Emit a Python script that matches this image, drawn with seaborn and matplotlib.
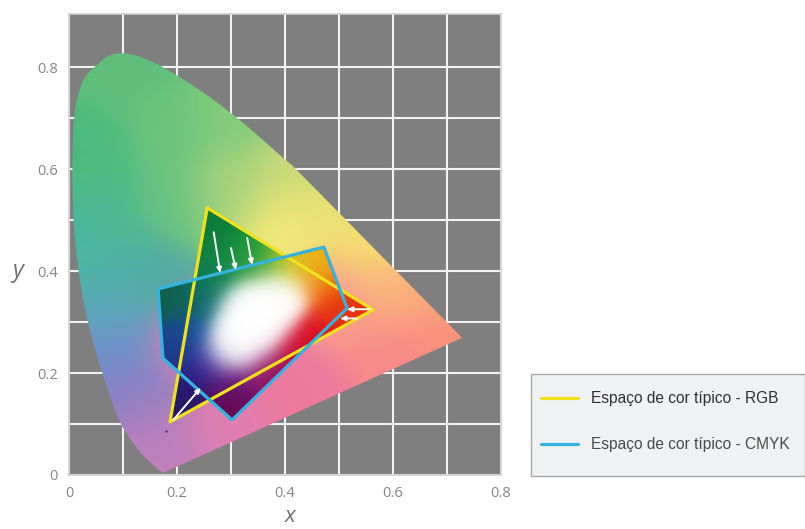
import numpy as np
import matplotlib
matplotlib.use("Agg")
import matplotlib.pyplot as plt
from matplotlib.patches import Polygon, Rectangle, PathPatch
from matplotlib.path import Path
import seaborn as sns

# --- chromaticity data ---
locus_x = [.174, .150, .131, .112, .094, .077, .061, .047, .035, .027, .020, .014, .009, .007,
           .006, .007, .009, .015, .026, .038, .052, .064, .076, .090, .104, .120, .137, .155, .174,
           .235, .298, .350, .400, .428, .728]
locus_y = [.004, .024, .045, .072, .102, .150, .202, .250, .300, .340, .382, .430, .480, .540,
           .598, .650, .702, .742, .775, .792, .804, .816, .824, .827, .827, .824, .818, .810, .800,
           .761, .712, .666, .618, .595, .269]

rgb_x = [.256, .563, .187]
rgb_y = [.524, .324, .104]
cmyk_x = [.165, .472, .515, .302, .174]
cmyk_y = [.365, .447, .327, .108, .229]

outer_x = [.104, .039, .057, .011, .057, .076, .113, .150, .178, .300, .428, .613, .715, .613, .557, .483, .409,
           .298, .187, .187, .120, .300, .400, .500, .080, .240]
outer_y = [.794, .637, .441, .441, .343, .245, .147, .069, .018, .088, .147, .225, .269, .363, .441, .520, .598,
           .696, .676, .539, .400, .560, .500, .350, .520, .260]
outer_c = ["#5fbf7a", "#4dbb7d", "#50b89a", "#44b5a8", "#58aabb", "#7090cc", "#8e80c4", "#b880be", "#c47fbb",
           "#e07eb0", "#ee7a9e", "#f88a8a", "#f99478", "#fbae7c", "#f9e070", "#e8e070", "#c4d878",
           "#84cc7c", "#6cc47c", "#6cc480", "#50aaa4", "#a8d27c", "#f4ea78", "#f89a90", "#4cb98c", "#d080b0"]

ring_x = [.317, .357, .404, .446, .474, .502, .465, .419, .363, .307, .252, .224, .243, .270]
ring_y = [.431, .418, .416, .412, .373, .324, .275, .235, .202, .186, .216, .275, .343, .392]
ring_c = ["#0d9040", "#60b040", "#c8d020", "#f0b020", "#f07a10", "#e84010", "#e01020", "#c00840", "#90106a",
          "#5a1580", "#302090", "#1550a0", "#0f6a70", "#108050"]
white_x = [.294, .322, .350, .376, .400, .313, .335, .372, .317, .354]
white_y = [.251, .278, .308, .335, .357, .249, .255, .294, .324, .353]
dark_x = [.274, .335, .193, .193, .211, .298, .378, .441, .515, .539, .465, .252, .187]
dark_y = [.471, .435, .343, .251, .153, .141, .192, .251, .318, .325, .437, .490, .118]
dark_c = ["#10803c", "#1a9a3a", "#10604a", "#1e3a8a", "#2a1a70", "#6a0a50", "#a0105a", "#d81020", "#e83010",
          "#e82a10", "#f0b010", "#0c7a3a", "#201a60"]

arrow_tail_x = [.268, .300, .330, .193, .557, .533]
arrow_tail_y = [.476, .445, .465, .108, .325, .307]
arrow_head_x = [.280, .309, .339, .244, .515, .502]
arrow_head_y = [.396, .402, .412, .171, .325, .307]

speck_x = [.180]
speck_y = [.086]

tick_vals = [0, .2, .4, .6, .8]
tick_text = ["0", "0.2", "0.4", "0.6", "0.8"]
grid_x = [.1, .3, .5, .7]
grid_y = [.1, .3, .5, .7]

legend_labels = ["Espaço de cor típico - RGB", "Espaço de cor típico - CMYK"]
YELLOW, CYAN = "#efe11a", "#33b3e0"

sns.set_style("white")
plt.rcParams["font.family"] = ["Open Sans", "DejaVu Sans"]

W, H = 805, 529
fig = plt.figure(figsize=(W / 100, H / 100), dpi=100)
ax = fig.add_axes([69 / W, (H - 475) / H, 432 / W, 461 / H])
XLIM, YLIM = (0, .8), (0, .904)


def gradient(xs, ys, cols, sigma):
    gx, gy = np.meshgrid(np.linspace(0, .8, 500), np.linspace(0, .904, 500))
    pts = np.array(matplotlib.colors.to_rgba_array(cols))[:, :3]
    d2 = (gx[..., None] - np.array(xs)) ** 2 + (gy[..., None] - np.array(ys)) ** 2
    w = np.exp(-d2 / (2 * sigma ** 2)) + 1e-9
    return (w[..., None] * pts).sum(axis=2) / w.sum(axis=2, keepdims=True)


def smooth_outline(xs, ys):
    pts = np.c_[xs, ys]
    verts, codes = [pts[0]], [Path.MOVETO]
    for a, b in zip(pts[1:-2], pts[2:-1]):
        verts += [a, (a + b) / 2]
        codes += [Path.CURVE3, Path.CURVE3]
    verts += [pts[-1], pts[0]]
    codes += [Path.LINETO, Path.LINETO]
    return Path(np.array(verts), codes)


ext = [XLIM[0], XLIM[1], YLIM[0], YLIM[1]]
outer = ax.imshow(gradient(outer_x, outer_y, outer_c, .05), extent=ext, origin="lower", aspect="auto", zorder=2)
outer.set_clip_path(PathPatch(smooth_outline(locus_x, locus_y), transform=ax.transData))

inner_img = gradient(ring_x + white_x + dark_x, ring_y + white_y + dark_y,
                     ring_c + ["#ffffff"] * len(white_x) + dark_c, .029)
for px, py in [(rgb_x, rgb_y), (cmyk_x, cmyk_y)]:
    im = ax.imshow(inner_img, extent=ext, origin="lower", aspect="auto", zorder=3)
    im.set_clip_path(Polygon(np.c_[px, py], closed=True, transform=ax.transData))

sns.scatterplot(x=speck_x, y=speck_y, color="#553355", s=3, linewidth=0, ax=ax, zorder=4)
sns.lineplot(x=rgb_x + rgb_x[:1], y=rgb_y + rgb_y[:1], sort=False, estimator=None, color=YELLOW, lw=2.3,
             label=legend_labels[0], ax=ax, zorder=5)
sns.lineplot(x=cmyk_x + cmyk_x[:1], y=cmyk_y + cmyk_y[:1], sort=False, estimator=None, color=CYAN, lw=2.3,
             label=legend_labels[1], ax=ax, zorder=6)

for x0, y0, x1, y1 in zip(arrow_tail_x, arrow_tail_y, arrow_head_x, arrow_head_y):
    ax.annotate("", xy=(x1, y1), xytext=(x0, y0), zorder=7,
                arrowprops=dict(arrowstyle="-|>,head_width=0.14,head_length=0.3", color="white", lw=1.4,
                                shrinkA=0, shrinkB=0))

ax.set_xlim(*XLIM)
ax.set_ylim(*YLIM)
ax.set_facecolor("#7f7f7f")
ax.set_xticks(tick_vals, tick_text)
ax.set_yticks(tick_vals, tick_text)
ax.set_xticks(grid_x, minor=True)
ax.set_yticks(grid_y, minor=True)
ax.set_axisbelow(True)
ax.grid(which="both", color="#f2f2f2", lw=1.5, zorder=1)
ax.tick_params(which="both", length=0)
ax.tick_params(axis="both", which="major", labelsize=10.5, labelcolor="#858585")
ax.tick_params(axis="x", pad=8)
ax.tick_params(axis="y", pad=8)
for s in ax.spines.values():
    s.set_color("#d0d0d0")
    s.set_linewidth(1.2)

fig.text(290 / W, 1 - 517 / H, "x", style="italic", fontsize=16, color="#707070", ha="center", va="center")
fig.text(18 / W, 1 - 271 / H, "y", style="italic", fontsize=17, color="#707070", ha="center", va="center")

fig.add_artist(Rectangle((531 / W, (H - 476) / H), 274 / W, 102 / H, transform=fig.transFigure,
                         facecolor="#f0f1f2", edgecolor="#a8a8a8", lw=1.0, zorder=-1))
leg = ax.legend(loc="upper left", bbox_to_anchor=(541 / W, (H - 391.5) / H),
                bbox_transform=fig.transFigure, frameon=False, labelspacing=1.97, borderpad=0,
                handlelength=2.4, handletextpad=0.84, borderaxespad=0,
                prop={"family": "Liberation Sans", "size": 11.2})
leg.get_texts()[0].set_color("#303030")
leg.get_texts()[1].set_color("#4a4a4a")

fig.savefig("out.png", dpi=100, facecolor="white")
